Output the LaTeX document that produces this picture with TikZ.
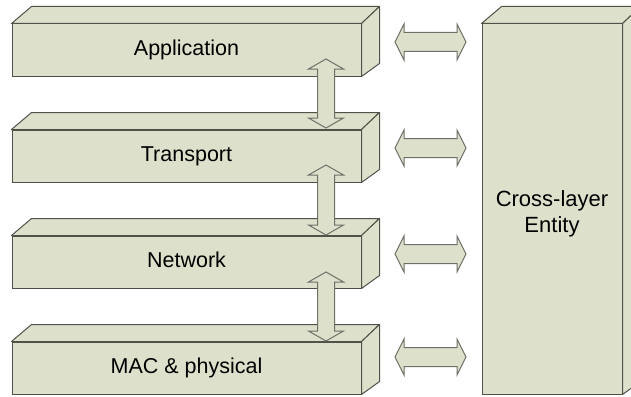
\documentclass[tikz,border=0pt]{standalone}
\usepackage{fontspec}
\setmainfont{Liberation Sans}
\usetikzlibrary{calc}
\definecolor{boxfill}{RGB}{221,224,202}
\definecolor{boxline}{RGB}{80,82,74}
\definecolor{arrline}{RGB}{110,112,104}
\tikzset{
  layer/.style={rectangle, draw=boxline, fill=boxfill, line width=1pt,
    minimum width=349pt, minimum height=52pt, inner sep=0pt,
    text height=15.5pt, text depth=4.5pt,
    font=\fontsize{21.5}{26}\selectfont},
  faceshape/.style={draw=boxline, fill=boxfill, line width=1pt, line join=round},
  blockarrow/.style={draw=arrline, fill=boxfill, line width=1pt, line join=miter},
  entitytext/.style={align=center, inner sep=0pt, font=\fontsize{22}{26}\selectfont}
}
% cuboid faces (top and right side) for a front-face node
\newcommand\cubefaces[1]{%
  \path[faceshape] (#1.north west) -- ++(20,-17) -- ($(#1.north east)+(18,-17)$) -- (#1.north east) -- cycle;
  \path[faceshape] (#1.north east) -- ++(18,-17) -- ($(#1.south east)+(18,-13)$) -- (#1.south east) -- cycle;
}
% horizontal double block arrow between two coordinates
\newcommand\harrow[2]{%
  \path[blockarrow] (#1) -- ($(#1)+(9,-18)$) -- ($(#1)+(9,-9.5)$) -- ($(#2)+(-9,-9.5)$)
    -- ($(#2)+(-9,-18)$) -- (#2) -- ($(#2)+(-9,18)$) -- ($(#2)+(-9,9.5)$)
    -- ($(#1)+(9,9.5)$) -- ($(#1)+(9,18)$) -- cycle;
}
% vertical double block arrow between two coordinates (top, bottom)
\newcommand\varrow[2]{%
  \path[blockarrow] (#1) -- ($(#1)+(17.5,10)$) -- ($(#1)+(8.5,10)$) -- ($(#2)+(8.5,-10)$)
    -- ($(#2)+(17.5,-10)$) -- (#2) -- ($(#2)+(-17.5,-10)$) -- ($(#2)+(-8.5,-10)$)
    -- ($(#1)+(-8.5,10)$) -- ($(#1)+(-17.5,10)$) -- cycle;
}
\begin{document}
\begin{tikzpicture}[x=1pt,y=-1pt]
\useasboundingbox (0,0) rectangle (631,396);
\clip (0,0) rectangle (631,396);

% layer boxes
\node[layer] (app) at (186.5,50) {Application};
\cubefaces{app}
\node[layer] (tra) at (186.5,156) {Transport};
\cubefaces{tra}
\node[layer] (net) at (186.5,262) {Network};
\cubefaces{net}
\node[layer] (mac) at (186.5,368) {MAC \& physical};
\cubefaces{mac}

% cross-layer entity
\node[rectangle, draw=boxline, fill=boxfill, line width=1pt, inner sep=0pt,
      minimum width=140pt, minimum height=370pt] (ent) at (552,209) {};
\cubefaces{ent}
\node[entitytext] (entlabel) at (552,214) {Cross-layer\\Entity};

% vertical arrows between layers
\coordinate (v1t) at (326,59);  \coordinate (v1b) at (326,128);
\coordinate (v2t) at (326,165); \coordinate (v2b) at (326,235);
\coordinate (v3t) at (326,272); \coordinate (v3b) at (326,341);
\varrow{v1t}{v1b}
\varrow{v2t}{v2b}
\varrow{v3t}{v3b}

% horizontal arrows to the entity
\coordinate (h1l) at (395,42);  \coordinate (h1r) at (466,42);
\coordinate (h2l) at (395,148); \coordinate (h2r) at (466,148);
\coordinate (h3l) at (395,254); \coordinate (h3r) at (466,254);
\coordinate (h4l) at (395,357); \coordinate (h4r) at (466,357);
\harrow{h1l}{h1r}
\harrow{h2l}{h2r}
\harrow{h3l}{h3r}
\harrow{h4l}{h4r}
\end{tikzpicture}
\end{document}
